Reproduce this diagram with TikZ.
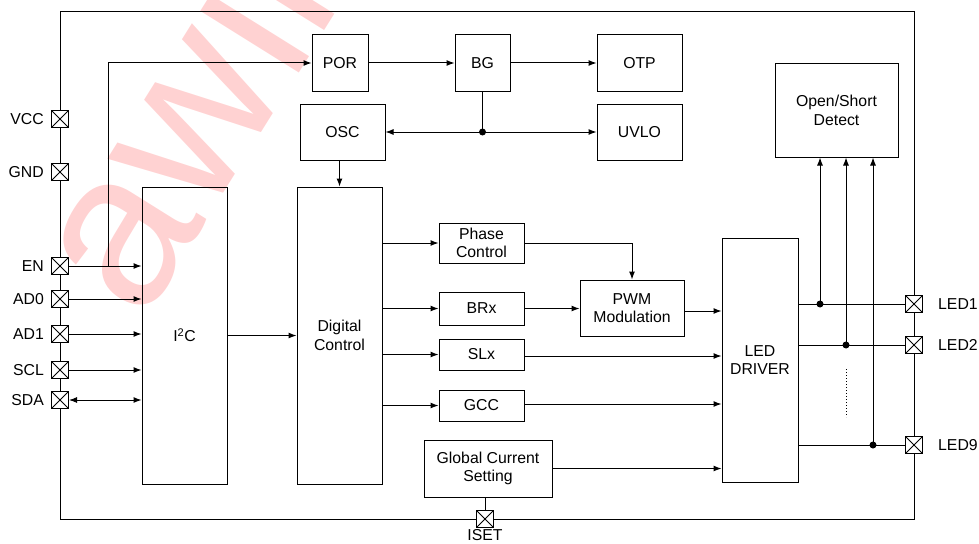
\documentclass[tikz,border=0pt]{standalone}
\usepackage{fontspec}
\setmainfont{Liberation Sans}
\usetikzlibrary{arrows.meta,calc}
\definecolor{wm}{RGB}{255,210,210}
\begin{document}
\begin{tikzpicture}[x=1pt,y=-1pt,
  every node/.style={font=\fontsize{15.8}{18.5}\selectfont},
  blk/.style={draw,line width=1pt,align=center,inner sep=0pt,fill=none},
  pin/.style={draw,line width=1pt,fill=white,minimum size=17pt,inner sep=0pt,
     path picture={\draw[line width=0.9pt] (path picture bounding box.north west)--(path picture bounding box.south east)
        (path picture bounding box.north east)--(path picture bounding box.south west);}},
  lbl/.style={inner sep=0pt},
  conn/.style={line width=1pt},
  arr/.style={line width=1pt,-{Latex[length=8pt,width=6pt]}},
  dot/.style={circle,fill=black,inner sep=0pt,minimum size=7pt}]
\useasboundingbox (0,0) rectangle (979,543);
% watermark
\node[text=wm,rotate=58,anchor=base west,inner sep=0pt,font=\fontsize{220}{220}\selectfont] (wmk) at (142,324) {awinic};
% frame
\draw[conn] (60,12) rectangle (914,519);
% blocks
\node[blk,minimum width=56pt,minimum height=56pt] (POR) at (340,63) {POR};
\node[blk,minimum width=55pt,minimum height=56pt] (BG) at (482.5,63) {BG};
\node[blk,minimum width=85pt,minimum height=56pt] (OTP) at (639.5,63) {OTP};
\node[blk,minimum width=85pt,minimum height=56pt] (OSC) at (342.5,132) {OSC};
\node[blk,minimum width=85pt,minimum height=56pt] (UVLO) at (639.5,132) {UVLO};
\node[blk,minimum width=123pt,minimum height=93pt] (OSD) at (836.5,110.5) {Open/Short\\Detect};
\node[blk,minimum width=85pt,minimum height=297pt] (I2C) at (184.5,335.5) {I\textsuperscript{2}C};
\node[blk,minimum width=85pt,minimum height=297pt] (DC) at (339.5,335.5) {Digital\\Control};
\node[blk,minimum width=85pt,minimum height=40pt] (PH) at (481.5,243) {Phase\\Control};
\node[blk,minimum width=85pt,minimum height=33pt] (BRX) at (481.5,308.5) {BRx};
\node[blk,minimum width=85pt,minimum height=31pt] (SLX) at (481.5,354.5) {SLx};
\node[blk,minimum width=85pt,minimum height=31pt] (GCC) at (481.5,405.5) {GCC};
\node[blk,minimum width=104pt,minimum height=56pt] (PWM) at (632,308) {PWM\\Modulation};
\node[blk,minimum width=76pt,minimum height=244pt] (LD) at (760,360) {LED\\DRIVER};
\node[blk,minimum width=128pt,minimum height=57pt] (GCS) at (488,468.5) {Global Current\\Setting};
% left pins
\foreach \n/\t/\yy in {VCC/VCC/119,GND/GND/172,EN/EN/266,AD0/AD0/299,AD1/AD1/334,SCL/SCL/370,SDA/SDA/400}{
  \node[pin] (p\n) at (60,\yy) {};
  \node[lbl,anchor=east] (l\n) at ($(p\n.west)+(-7,0)$) {\t};
}
% right pins
\foreach \n/\yy in {1/304,2/345,9/445}{
  \node[pin] (pL\n) at (914,\yy) {};
  \node[lbl,anchor=west] (lL\n) at ($(pL\n.east)+(15,0)$) {LED\n};
}
\node[pin] (pISET) at (485,519) {};
\node[lbl,anchor=north] (lISET) at ($(pISET.south)+(0,1.5)$) {ISET};
% connections left
\draw[arr] (pEN.east) -- (pEN.east -| I2C.west);
\coordinate (enb) at (108,266);
\draw[arr] (enb) |- (POR.west);
\draw[arr] (pAD0.east) -- (pAD0.east -| I2C.west);
\draw[arr] (pAD1.east) -- (pAD1.east -| I2C.west);
\draw[arr] (pSCL.east) -- (pSCL.east -| I2C.west);
\draw[line width=1pt,{Latex[length=8pt,width=6pt]}-{Latex[length=8pt,width=6pt]}] (pSDA.east) -- (pSDA.east -| I2C.west);
% top
\draw[arr] (POR.east) -- (BG.west);
\draw[arr] (BG.east) -- (OTP.west);
\coordinate (jn) at (BG.south |- UVLO.west);
\draw[conn] (BG.south) -- (jn);
\draw[arr] (jn) -- (OSC.east);
\draw[arr] (jn) -- (UVLO.west);
\node[dot] (jdot) at (jn) {};
\draw[arr] (OSC.south -| DC.north) -- (DC.north);
\draw[arr] (I2C.east) -- (DC.west);
% digital control outputs
\draw[arr] (DC.east |- PH.west) -- (PH.west);
\draw[arr] (DC.east |- BRX.west) -- (BRX.west);
\draw[arr] (DC.east |- SLX.west) -- (SLX.west);
\draw[arr] (DC.east |- GCC.west) -- (GCC.west);
\draw[arr] (PH.east) -| (PWM.north);
\draw[arr] (BRX.east) -- (BRX.east -| PWM.west);
\coordinate (pwmo) at ($(PWM.east)+(0,3)$);
\draw[arr] (pwmo) -- (pwmo -| LD.west);
\draw[arr] (SLX.east) ++(0,1.5) coordinate (slo) -- (slo -| LD.west);
\draw[arr] (GCC.east) ++(0,-1.5) coordinate (gco) -- (gco -| LD.west);
\draw[arr] (GCS.east) -- (GCS.east -| LD.west);
\draw[conn] (GCS.south -| pISET.north) -- (pISET.north);
% LED outputs
\draw[conn] (LD.east |- pL1.west) -- (pL1.west);
\draw[conn] (LD.east |- pL2.west) -- (pL2.west);
\draw[conn] (LD.east |- pL9.west) -- (pL9.west);
\coordinate (d1) at (820,304);
\coordinate (d2) at (846,345);
\coordinate (d9) at (873,445);
\draw[arr] (d1) -- (d1 |- OSD.south);
\draw[arr] (d2) -- (d2 |- OSD.south);
\draw[arr] (d9) -- (d9 |- OSD.south);
\node[dot] (dd1) at (d1) {};
\node[dot] (dd2) at (d2) {};
\node[dot] (dd9) at (d9) {};
\draw[line width=1pt,dash pattern=on 1pt off 2pt] (846,369) -- (846,417);
\end{tikzpicture}
\end{document}
